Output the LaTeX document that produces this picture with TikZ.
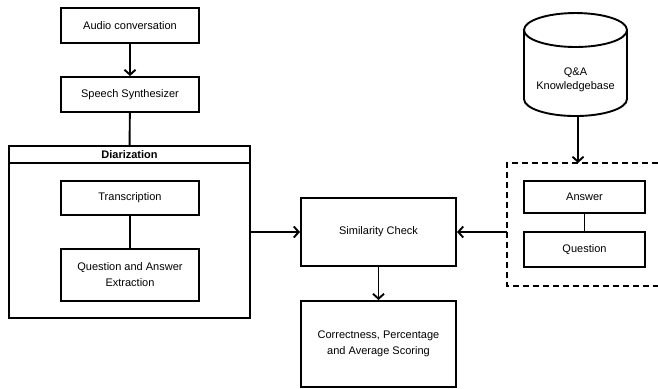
\documentclass[tikz,border=0pt]{standalone}
\usepackage{fontspec}
\setmainfont{Liberation Sans}
\usetikzlibrary{positioning}
\usetikzlibrary{shapes.geometric}
\usetikzlibrary{arrows.meta}

\tikzset{
  stagebox/.style={draw, line width=1.9pt, align=center, inner sep=2pt,
    font=\fontsize{11}{16}\selectfont},
  flowarrow/.style={line width=1.9pt, -{Straight Barb[length=5pt, width=11pt]}},
  flowline/.style={line width=1.9pt}
}

\begin{document}
\begin{tikzpicture}[x=1pt, y=-1pt]

\useasboundingbox (0,0) rectangle (658,388);

% left column
\node[stagebox, minimum width=138pt, minimum height=35pt] (audio) at (130,25.5) {Audio conversation};
\node[stagebox, minimum width=138pt, minimum height=35pt] (synth) at (130,94.5) {Speech Synthesizer};

\node[stagebox, minimum width=241pt, minimum height=172pt] (diar) at (129.5,232) {};
\node[stagebox, minimum width=241pt, minimum height=17pt, anchor=north, font=\fontsize{11}{16}\selectfont\bfseries] (diarhead) at (diar.north) {Diarization};

\node[stagebox, minimum width=138pt, minimum height=34pt] (transcr) at (130,198) {Transcription};
\node[stagebox, minimum width=138pt, minimum height=52pt] (qaextr) at (130,275) {Question and Answer\\Extraction};

% middle column
\node[stagebox, minimum width=155pt, minimum height=68pt] (simcheck) at (378.5,232) {Similarity Check};
\node[stagebox, minimum width=155pt, minimum height=86pt] (scoring) at (378.5,344) {Correctness, Percentage\\and Average Scoring};

% right column
\node[cylinder, shape border rotate=90, aspect=0.4, draw, line width=1.9pt,
  minimum width=103pt, minimum height=103pt, align=center,
  font=\fontsize{11}{14}\selectfont] (kbase) at (575.5,76.5) {\\Q\&A\\Knowledgebase};

\coordinate (kbtopleft) at (507,163);
\coordinate (kbbotleft) at (507,286);
\draw[line width=1.9pt, dash pattern=on 6pt off 4pt] (658,163) -- (kbtopleft) -- (kbbotleft) -- (658,286);
\coordinate (kbin) at (578,163);
\coordinate (kbout) at (507,232);

\node[stagebox, minimum width=121pt, minimum height=32pt] (answer) at (584.5,197) {Answer};
\node[stagebox, minimum width=121pt, minimum height=35pt] (question) at (584.5,249.5) {Question};

% connectors
\draw[flowarrow] (audio) -- (synth);
\draw[flowline] (synth) -- (diarhead);
\draw[flowline] (transcr) -- (qaextr);
\draw[flowarrow] (diar.east) -- (simcheck.west);
\draw[flowarrow] (simcheck) -- (scoring);
\draw[flowarrow] (kbase.bottom -| kbin) -- (kbin);
\draw[flowline] (answer) -- (question);
\draw[flowarrow] (kbout) -- (simcheck.east);

\end{tikzpicture}
\end{document}
